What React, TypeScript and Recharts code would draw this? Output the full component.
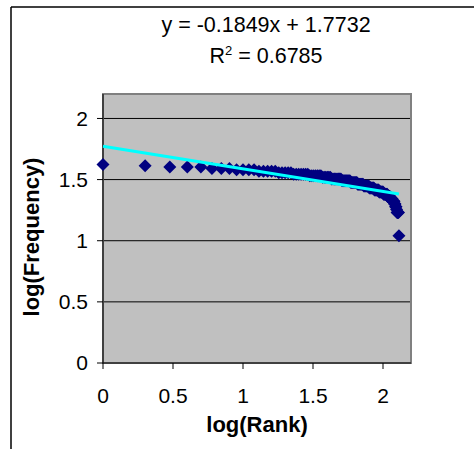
import { ScatterChart, Scatter, XAxis, YAxis, CartesianGrid, ReferenceArea } from "recharts";

// frequency levels (top to bottom) and how many ranks sit on each level
const freqLevels = [42, 41, 40, 39, 38, 37, 36, 35, 34, 33, 32, 31, 30, 29, 28, 27, 26, 25, 24, 23, 22, 21, 20, 19, 18, 17, 11];
const levelCounts = [1, 1, 3, 3, 4, 5, 5, 7, 7, 6, 8, 8, 7, 7, 7, 7, 7, 7, 7, 5, 4, 4, 2, 2, 1, 4, 1];

const xTicks = [0, 0.5, 1, 1.5, 2];
const yTicks = [0, 0.5, 1, 1.5, 2];

const slope = -0.1849;
const intercept = 1.7732;
const rSquared = 0.6785;

const points: { x: number; y: number }[] = [];
let rank = 1;
freqLevels.forEach((f, i) => {
  for (let k = 0; k < levelCounts[i]; k++) {
    points.push({ x: Math.log10(rank), y: Math.log10(f) });
    rank++;
  }
});

const lastX = points[points.length - 1].x;
const trend = [
  { x: 0, y: intercept },
  { x: lastX, y: intercept + slope * lastX },
];

const FONT = '"Liberation Sans", Arial, sans-serif';

const Diamond = (props: any) => {
  const { cx, cy } = props;
  const r = 6.5;
  return (
    <polygon
      points={`${cx},${cy - r} ${cx + r},${cy} ${cx},${cy + r} ${cx - r},${cy}`}
      fill="#000080"
    />
  );
};

const NoDot = () => <g />;

const App = () => {
  return (
    <div style={{ position: "fixed", left: 0, top: 0, width: 474, height: 449, overflow: "hidden", background: "#fff" }}>
      <ScatterChart width={474} height={449} margin={{ top: 94, right: 63, left: 0, bottom: 0 }}>
        <CartesianGrid horizontal vertical={false} stroke="#000" fill="#C0C0C0" fillOpacity={1} />
        <ReferenceArea x1={0} x2={2.2} y1={0} y2={2.2} fill="none" stroke="#808080" strokeWidth={2} />
        <XAxis
          type="number"
          dataKey="x"
          domain={[0, 2.2]}
          ticks={xTicks}
          height={86}
          tickSize={6}
          tickMargin={19}
          axisLine={{ stroke: "#000" }}
          tickLine={{ stroke: "#000" }}
          tick={{ fontSize: 21, fill: "#000", fontFamily: FONT }}
        />
        <YAxis
          type="number"
          dataKey="y"
          domain={[0, 2.2]}
          ticks={yTicks}
          width={103}
          tickSize={6}
          tickMargin={9}
          axisLine={{ stroke: "#000" }}
          tickLine={{ stroke: "#000" }}
          tick={{ fontSize: 21, fill: "#000", fontFamily: FONT }}
        />
        <Scatter data={points} shape={Diamond} isAnimationActive={false} />
        <Scatter
          data={trend}
          shape={NoDot}
          line={{ stroke: "#00FFFF", strokeWidth: 3 }}
          isAnimationActive={false}
        />
      </ScatterChart>
      <svg width={474} height={449} style={{ position: "absolute", left: 0, top: 0, pointerEvents: "none" }}>
        <line x1={11} y1={7} x2={474} y2={7} stroke="#000" strokeWidth={1.5} />
        <line x1={11} y1={7} x2={11} y2={449} stroke="#000" strokeWidth={1.5} />
        <text x={266} y={32} textAnchor="middle" fontSize={21.5} fontFamily={FONT} fill="#000">
          {`y = ${slope}x + ${intercept}`}
        </text>
        <text x={266} y={63} textAnchor="middle" fontSize={21.5} fontFamily={FONT} fill="#000">
          <tspan>R</tspan>
          <tspan dy={-8} fontSize={13}>2</tspan>
          <tspan dy={8}>{` = ${rSquared}`}</tspan>
        </text>
        <text x={257} y={432} textAnchor="middle" fontSize={22} fontWeight="bold" fontFamily={FONT} fill="#000">
          log(Rank)
        </text>
        <text
          x={31}
          y={237}
          textAnchor="middle"
          dominantBaseline="central"
          transform="rotate(-90, 31, 237)"
          fontSize={22}
          fontWeight="bold"
          fontFamily={FONT}
          fill="#000"
        >
          log(Frequency)
        </text>
      </svg>
    </div>
  );
};

export default App;
